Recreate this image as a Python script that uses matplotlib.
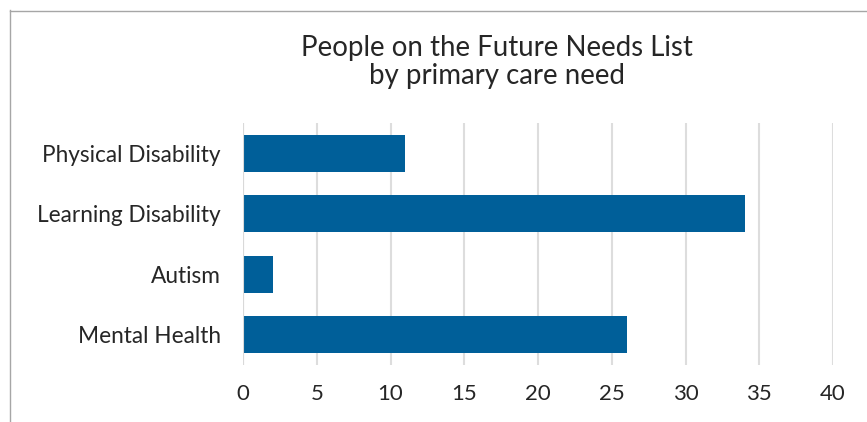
import matplotlib
matplotlib.use("Agg")
import matplotlib.pyplot as plt

categories = ["Physical Disability", "Learning Disability", "Autism", "Mental Health"]
values = [11, 34, 2, 26]
xticks = [0, 5, 10, 15, 20, 25, 30, 35, 40]
title = "People on the Future Needs List\nby primary care need"

plt.rcParams['font.family'] = ['Lato', 'DejaVu Sans']

W, H = 867, 422
fig = plt.figure(figsize=(W / 100, H / 100), dpi=100)
ax = fig.add_axes([243 / W, 1 - 365 / H, (833 - 243) / W, (365 - 123) / H])

ypos = list(range(len(categories)))
ax.barh(ypos, values, height=0.613, color="#005F99", zorder=3)
ax.set_ylim(len(categories) - 0.5, -0.5)
ax.set_yticks(ypos)
ax.set_yticklabels(categories, fontsize=16.3, color="#262626")
ax.set_xlim(0, 40)
ax.set_xticks(xticks)
ax.set_xticklabels([str(t) for t in xticks], fontsize=16, color="#262626")
ax.tick_params(axis='both', length=0)
ax.tick_params(axis='y', pad=16)
ax.tick_params(axis='x', pad=14)
ax.grid(axis='x', color="#DDDDDD", linewidth=1.5, zorder=0)
for s in ax.spines.values():
    s.set_visible(False)
ax.axvline(0, color="#D9D9D9", linewidth=1.5, zorder=4)

fig.text(497 / W, 1 - 62 / H, title, ha='center', va='center', fontsize=19.9, color="#262626", linespacing=1.12)

# outer frame (left and top edges)
fig.add_artist(plt.Line2D([9.5 / W, 9.5 / W], [0, 1 - 10 / H], transform=fig.transFigure, color="#A6A6A6", linewidth=1))
fig.add_artist(plt.Line2D([9.5 / W, 1], [1 - 10.5 / H, 1 - 10.5 / H], transform=fig.transFigure, color="#A6A6A6", linewidth=1))

fig.savefig("out.png", dpi=100)
